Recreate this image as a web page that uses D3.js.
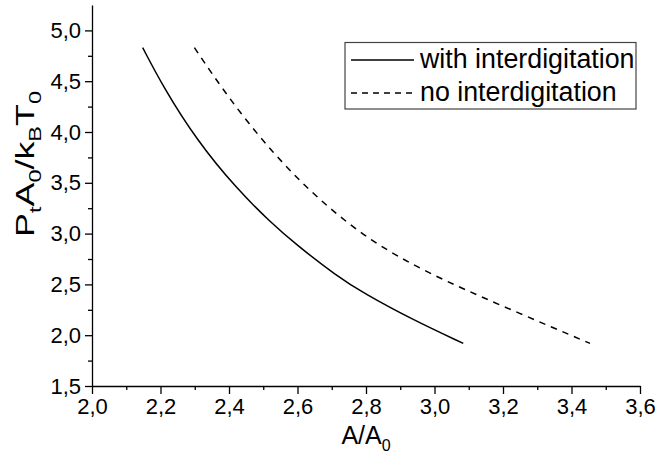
<!DOCTYPE html>
<html>
<head>
<meta charset="utf-8">
<script src="https://cdn.jsdelivr.net/npm/d3@7"></script>
<style>
  body { margin: 0; background: #fff; }
  svg { font-family: Arial, "Liberation Sans", sans-serif; }
  .axis path, .axis line { stroke: #000; stroke-width: 1.3; }
  .axis text { font-size: 22px; fill: #000; }
</style>
</head>
<body>
<div class="chart"></div>
<script>
// curve data
const withX = [2.148, 2.208, 2.306, 2.422, 2.520, 2.598, 2.714, 2.792, 2.938, 3.084];
const withY = [4.830, 4.443, 3.918, 3.443, 3.115, 2.886, 2.585, 2.415, 2.149, 1.919];
const noX = [2.299, 2.403, 2.529, 2.656, 2.812, 2.987, 3.182, 3.454];
const noY = [4.830, 4.312, 3.787, 3.350, 2.925, 2.600, 2.310, 1.919];

const xTicks = [2.0, 2.2, 2.4, 2.6, 2.8, 3.0, 3.2, 3.4, 3.6];
const yTicks = [1.5, 2.0, 2.5, 3.0, 3.5, 4.0, 4.5, 5.0];
const legendLabels = ['with interdigitation', 'no interdigitation'];

var width = 656, height = 459;
var svg = d3.select('div.chart').append('svg')
    .attr('width', width)
    .attr('height', height);

var x = d3.scaleLinear().domain([2.0, 3.6]).range([92, 640]);
var y = d3.scaleLinear().domain([1.5, 5.25]).range([386, 5]);

var comma = d => d3.format('.1f')(d).replace('.', ',');

// minor ticks first
svg.append('g')
    .attr('class', 'axis')
    .attr('transform', `translate(0,${y(1.5)})`)
    .call(d3.axisBottom(x).tickValues(d3.range(2.1, 3.6, 0.2)).tickSize(4).tickFormat(''))
    .select('.domain').remove();
svg.append('g')
    .attr('class', 'axis')
    .attr('transform', `translate(${x(2.0)},0)`)
    .call(d3.axisLeft(y).tickValues(d3.range(1.75, 5.25, 0.5)).tickSize(4).tickFormat(''))
    .select('.domain').remove();

svg.append('g')
    .attr('class', 'axis')
    .attr('transform', `translate(0,${y(1.5)})`)
    .call(d3.axisBottom(x).tickValues(xTicks).tickSize(8).tickSizeOuter(0).tickPadding(4).tickFormat(comma));

svg.append('g')
    .attr('class', 'axis')
    .attr('transform', `translate(${x(2.0)},0)`)
    .call(d3.axisLeft(y).tickValues(yTicks).tickSize(7).tickSizeOuter(0).tickPadding(4).tickFormat(comma));

// axis titles
var xt = svg.append('text')
    .attr('x', 366).attr('y', 444)
    .attr('text-anchor', 'middle')
    .style('font-size', '25px');
xt.append('tspan').text('A/A');
xt.append('tspan').attr('dy', 7).style('font-size', '16px').text('0');

// the original title is drawn wide along its run, hence the x scale
var yt = svg.append('text')
    .attr('transform', 'translate(34,164) rotate(-90) scale(1.38,1)')
    .attr('text-anchor', 'middle')
    .style('font-size', '26px');
[['P', 0], ['t', 1], ['A', 0], ['0', 1], ['/k', 0], ['B', 1], ['T', 0], ['0', 1]].forEach(function (p, i, arr) {
    var prev = i > 0 ? arr[i - 1][1] : 0;
    var dy = p[1] === prev ? 0 : (p[1] ? 7 : -7);
    yt.append('tspan')
        .attr('dy', dy)
        .style('font-size', p[1] ? '17px' : '26px')
        .text(p[0]);
});

// curves
var line = d3.line()
    .x(d => x(d[0]))
    .y(d => y(d[1]))
    .curve(d3.curveBasis);

svg.append('path')
    .datum(d3.zip(withX, withY))
    .attr('d', line)
    .attr('fill', 'none')
    .attr('stroke', '#000')
    .attr('stroke-width', 1.5);

svg.append('path')
    .datum(d3.zip(noX, noY))
    .attr('d', line)
    .attr('fill', 'none')
    .attr('stroke', '#000')
    .attr('stroke-width', 1.5)
    .attr('stroke-dasharray', '6.5,6');

// legend
var lg = svg.append('g');
lg.append('rect')
    .attr('x', 345).attr('y', 42.5)
    .attr('width', 291).attr('height', 66.5)
    .attr('fill', '#fff')
    .attr('stroke', '#444')
    .attr('stroke-width', 1.2);
legendLabels.forEach(function (lab, i) {
    var ly = 60 + i * 33;
    lg.append('line')
        .attr('x1', 351).attr('x2', 414)
        .attr('y1', ly).attr('y2', ly)
        .attr('stroke', '#000')
        .attr('stroke-width', 1.3)
        .attr('stroke-dasharray', i ? '6,5' : null);
    lg.append('text')
        .attr('x', 420).attr('y', ly + 8)
        .style('font-size', '26.8px')
        .text(lab);
});
</script>
</body>
</html>
